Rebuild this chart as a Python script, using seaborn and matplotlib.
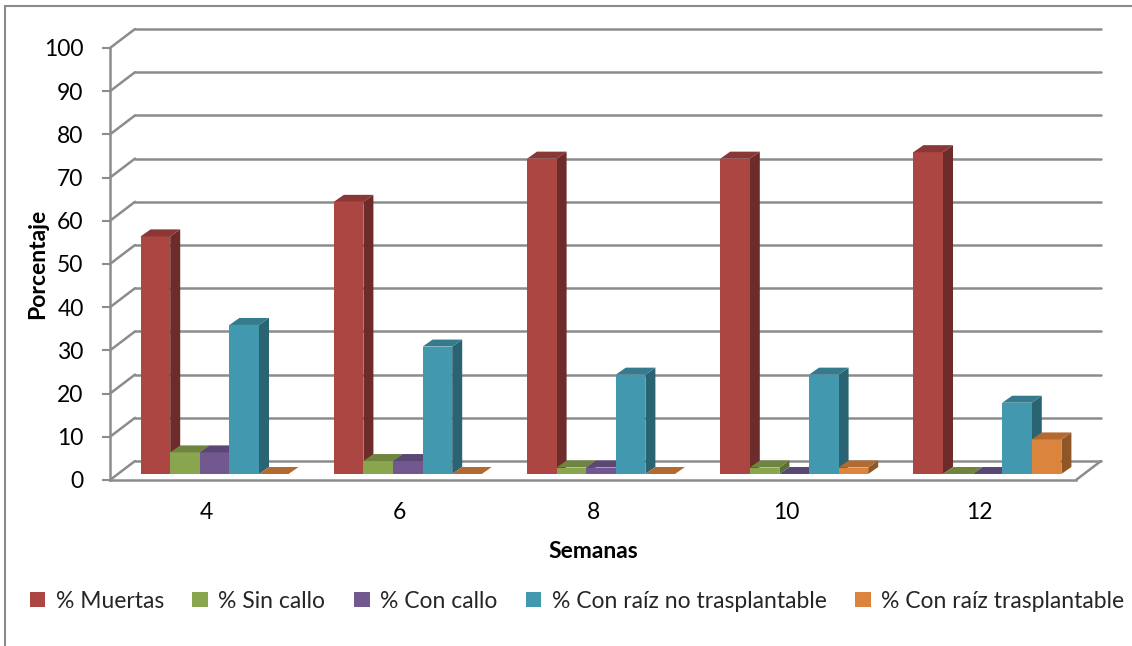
import numpy as np
import pandas as pd
import matplotlib
matplotlib.use("Agg")
import matplotlib.pyplot as plt
import matplotlib.colors as mcolors
import seaborn as sns
from matplotlib.patches import Polygon, Patch
from matplotlib.lines import Line2D
from matplotlib.transforms import offset_copy

# ---- data -------------------------------------------------------------
semanas = ["4", "6", "8", "10", "12"]
series = ["% Muertas", "% Sin callo", "% Con callo",
          "% Con raíz no trasplantable", "% Con raíz trasplantable"]
muertas = [55, 63, 73, 73, 74.5]
sin_callo = [5, 3, 1.5, 1.5, 0]
con_callo = [5, 3, 1.5, 0, 0]
raiz_no_trasplantable = [34.5, 29.5, 23, 23, 16.5]
raiz_trasplantable = [0, 0, 0, 1.5, 8]
y_ticks = list(range(0, 101, 10))

# ---- styling ----------------------------------------------------------
front_colors = ["#AB4643", "#89A54E", "#71588F", "#4198AF", "#DB843D"]
side_colors = ["#6D2B2A", "#5B6E33", "#4C3B60", "#2A6473", "#8F5627"]
top_colors = ["#8A3735", "#6F853F", "#5B4774", "#347B8E", "#B26A31"]
grid_color = "#8C8C8C"
fs = 16.5

sns.set_theme(style="white")
plt.rcParams["font.family"] = ["Lato", "DejaVu Sans"]

values = [muertas, sin_callo, con_callo, raiz_no_trasplantable, raiz_trasplantable]
df = pd.DataFrame(
    [(s, serie, v) for serie, vals in zip(series, values) for s, v in zip(semanas, vals)],
    columns=["Semanas", "Serie", "Porcentaje"],
)

W, H = 1132, 646
fig = plt.figure(figsize=(W / 100, H / 100), dpi=100)
fig.patch.set_facecolor("white")
ax = fig.add_axes([110 / W, (H - 480) / H, 966 / W, 432 / H])
ax.set_facecolor("none")

sns.barplot(data=df, x="Semanas", y="Porcentaje", hue="Serie",
            order=semanas, hue_order=series, palette=front_colors,
            width=0.766, gap=0, saturation=1, linewidth=0,
            legend=False, ax=ax)

ax.set_xlim(-0.5, 4.5)
ax.set_ylim(0, 100)

# pixel -> data conversion for the oblique depth effect
px_x = 5 / 966
px_y = 100 / 432
wall_dx, wall_dy = 25 * px_x, 19 * px_y       # back wall offset
bar_dx, bar_dy = 10 * px_x, 7 * px_y          # bar depth

# back wall gridlines and side diagonals
x0, x1 = -0.5, 4.5
for v in y_ticks:
    ax.add_line(Line2D([x0 + wall_dx, x1 + wall_dx], [v + wall_dy, v + wall_dy],
                       color=grid_color, lw=1.8, zorder=1, clip_on=False))
    ax.add_line(Line2D([x0, x0 + wall_dx], [v, v + wall_dy],
                       color=grid_color, lw=1.8, zorder=1, clip_on=False))
# floor right edge
ax.add_line(Line2D([x1, x1 + wall_dx], [0, wall_dy],
                   color=grid_color, lw=1.8, zorder=1, clip_on=False))

# bars sit a little back inside the floor
bar_tr = offset_copy(ax.transData, fig=fig, x=8, y=6, units="dots")
hex_front = [c.lower() for c in front_colors]
for p in list(ax.patches):
    k = hex_front.index(mcolors.to_hex(p.get_facecolor()))
    x, w, h = p.get_x(), p.get_width(), p.get_height()
    z = 2 + k * 0.1
    p.set_transform(bar_tr)
    p.set_zorder(z + 0.05)
    p.set_clip_on(False)
    side = Polygon([(x + w, 0), (x + w + bar_dx, bar_dy),
                    (x + w + bar_dx, h + bar_dy), (x + w, h)],
                   closed=True, facecolor=side_colors[k], edgecolor="none",
                   transform=bar_tr, zorder=z, clip_on=False)
    top = Polygon([(x, h), (x + w, h), (x + w + bar_dx, h + bar_dy),
                   (x + bar_dx, h + bar_dy)],
                  closed=True, facecolor=top_colors[k], edgecolor="none",
                  transform=bar_tr, zorder=z + 0.06, clip_on=False)
    ax.add_patch(side)
    ax.add_patch(top)

# axes, ticks, labels
for s in ["top", "right"]:
    ax.spines[s].set_visible(False)
for s in ["left", "bottom"]:
    ax.spines[s].set_color(grid_color)
    ax.spines[s].set_linewidth(1.8)
    ax.spines[s].set_zorder(1.5)

ax.set_yticks(y_ticks)
ax.set_yticklabels([str(t) for t in y_ticks])
ax.tick_params(axis="y", direction="out", length=6, width=1.5,
               color=grid_color, pad=13, labelsize=fs, labelcolor="black", left=True)
ax.set_xticks(range(len(semanas)))
ax.set_xticklabels(semanas)
ax.tick_params(axis="x", length=0, pad=16, labelsize=fs, labelcolor="black")

ax.set_xlabel("Semanas", fontsize=fs, fontweight="bold", labelpad=13, color="black")
ax.set_ylabel("Porcentaje", fontsize=fs, fontweight="bold", labelpad=-3, color="black")

# legend along the bottom
handles = [Patch(facecolor=c, edgecolor="none") for c in front_colors]
fig.legend(handles, series, loc="center", bbox_to_anchor=(577 / W, 1 - 601 / H),
           ncol=5, frameon=False, fontsize=fs, handlelength=0.68, handleheight=0.68,
           handletextpad=0.45, columnspacing=1.25, borderpad=0)

# outer frame
fig.add_artist(Line2D([5 / W, 1], [1 - 6 / H, 1 - 6 / H], color="#8A8A8A",
                      lw=1.5, transform=fig.transFigure))
fig.add_artist(Line2D([5 / W, 5 / W], [1 - 6 / H, 0], color="#8A8A8A",
                      lw=1.5, transform=fig.transFigure))

fig.savefig("out.png", dpi=100, facecolor="white")
